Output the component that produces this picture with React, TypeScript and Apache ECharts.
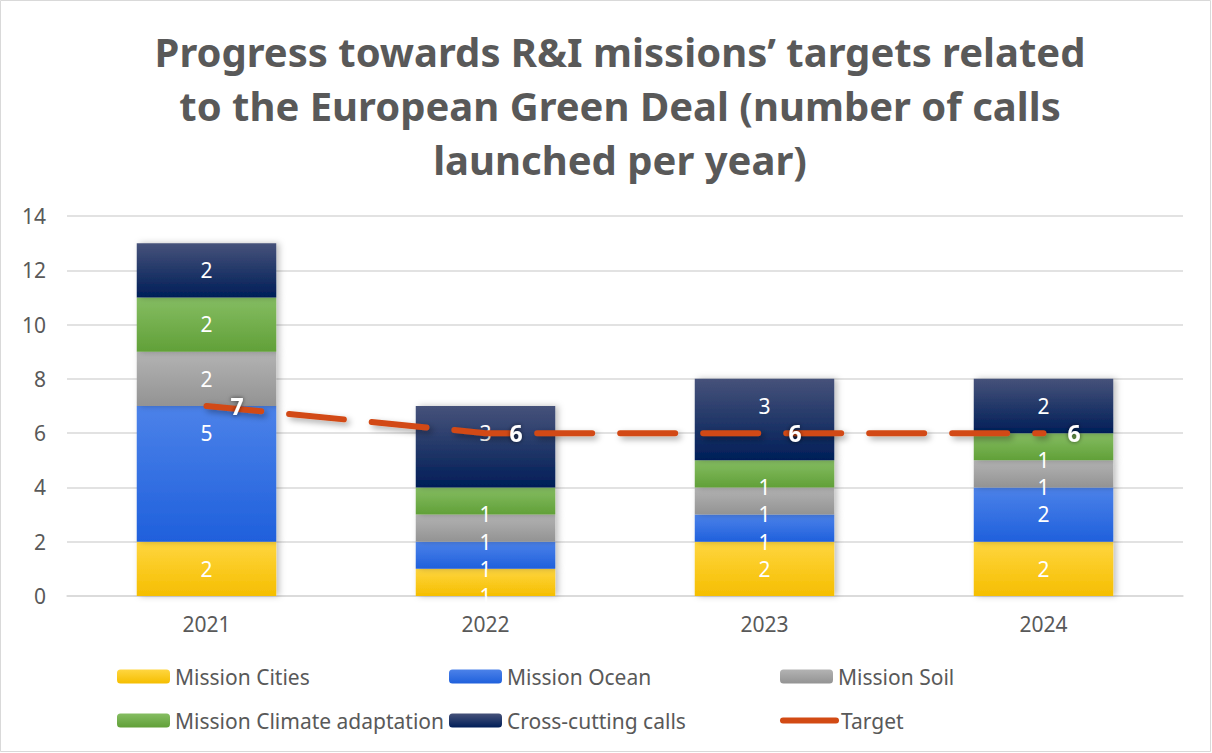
import React, { useEffect, useRef } from "react";
import * as echarts from "echarts";

const years = ["2021", "2022", "2023", "2024"];
const missionCities = [2, 1, 2, 2];
const missionOcean = [5, 1, 1, 2];
const missionSoil = [2, 1, 1, 1];
const missionClimate = [2, 1, 1, 1];
const crossCutting = [2, 3, 3, 2];
const target = [7, 6, 6, 6];
const yTicks = { min: 0, max: 14, interval: 2 };

const FONT = "Noto Sans";

const grad = (top: string, bottom: string) =>
  new echarts.graphic.LinearGradient(0, 0, 0, 1, [
    { offset: 0, color: top },
    { offset: 1, color: bottom },
  ]);

const barDefs = [
  { name: "Mission Cities", data: missionCities, top: "#FFD640", bottom: "#F5BE00" },
  { name: "Mission Ocean", data: missionOcean, top: "#4C82E9", bottom: "#1F60DC" },
  { name: "Mission Soil", data: missionSoil, top: "#B3B3B3", bottom: "#939393" },
  { name: "Mission Climate adaptation", data: missionClimate, top: "#85BD62", bottom: "#61A038" },
  { name: "Cross-cutting calls", data: crossCutting, top: "#46527A", bottom: "#001E58" },
];

export default function App() {
  const ref = useRef<HTMLDivElement>(null);
  useEffect(() => {
    if (!ref.current) return;
    const chart = echarts.init(ref.current, null, { renderer: "svg" });

    const barSeries = barDefs.map((d) => ({
      name: d.name,
      type: "bar",
      stack: "total",
      barWidth: "50%",
      itemStyle: {
        color: grad(d.top, d.bottom),
        shadowColor: "rgba(0,0,0,0.25)",
        shadowBlur: 6,
        shadowOffsetX: 3,
        shadowOffsetY: 0,
      },
      label: {
        show: true,
        position: "insideTop",
        distance: 15,
        lineHeight: 24,
        color: "#FFFFFF",
        fontSize: 21,
        fontFamily: FONT,
      },
      data: d.data,
    }));

    const legendPos = [
      { name: "Mission Cities", left: 117, top: 666 },
      { name: "Mission Ocean", left: 449, top: 666 },
      { name: "Mission Soil", left: 780, top: 666 },
      { name: "Mission Climate adaptation", left: 117, top: 710 },
      { name: "Cross-cutting calls", left: 449, top: 710 },
      { name: "Target", left: 780, top: 710 },
    ];

    chart.setOption({
      animation: false,
      backgroundColor: "#FFFFFF",
      textStyle: { fontFamily: FONT },
      graphic: [
        {
          type: "rect",
          shape: { x: 0.5, y: 0.5, width: 1210, height: 751 },
          style: { fill: "none", stroke: "#D9D9D9", lineWidth: 1 },
          silent: true,
          z: -10,
        },
        {
          type: "text",
          x: 620,
          y: 24,
          style: {
            text: "Progress towards R&I missions\u2019 targets related\nto the European Green Deal (number of calls\nlaunched per year)",
            fontFamily: FONT,
            fontWeight: "bold",
            fontSize: 40,
            lineHeight: 54,
            fill: "#595959",
            textAlign: "center",
            textVerticalAlign: "top",
          },
        },
      ],
      grid: { left: 67, right: 29, top: 216, bottom: 157 },
      xAxis: {
        type: "category",
        data: years,
        axisLine: { show: true, lineStyle: { color: "#D9D9D9", width: 1.5 } },
        axisTick: { show: false },
        axisLabel: { color: "#595959", fontSize: 21, fontFamily: FONT, margin: 17 },
      },
      yAxis: {
        type: "value",
        min: yTicks.min,
        max: yTicks.max,
        interval: yTicks.interval,
        axisLine: { show: false },
        axisTick: { show: false },
        axisLabel: { color: "#595959", fontSize: 21, fontFamily: FONT, margin: 21 },
        splitLine: { lineStyle: { color: "#D9D9D9", width: 1.5 } },
      },
      legend: legendPos.map((p) => {
        const base: any = {
          data: [p.name],
          left: p.left,
          top: p.top,
          itemWidth: 53,
          itemHeight: p.name === "Target" ? 6 : 14,
          itemGap: 0,
          padding: 0,
          textStyle: { color: "#595959", fontSize: 21, fontFamily: FONT },
          selectedMode: false,
        };
        if (p.name === "Target") {
          base.lineStyle = { type: "solid", width: 6, cap: "round", color: "#D24A14" };
          base.itemStyle = { color: "rgba(0,0,0,0)" };
        }
        return base;
      }),
      series: [
        ...barSeries,
        {
          name: "Target",
          type: "line",
          data: target,
          symbol: "circle",
          symbolSize: 2,
          showSymbol: true,
          z: 10,
          lineStyle: {
            color: "#D24A14",
            width: 6,
            type: [55, 28],
            cap: "round",
            shadowColor: "rgba(0,0,0,0.35)",
            shadowBlur: 6,
            shadowOffsetX: 3,
            shadowOffsetY: 3,
          },
          itemStyle: { color: "rgba(210,74,20,0)", borderWidth: 0 },
          label: {
            show: true,
            position: "right",
            offset: [18, 0],
            color: "#FFFFFF",
            opacity: 1,
            fontWeight: "bold",
            fontSize: 23,
            fontFamily: FONT,
            textShadowColor: "rgba(0,0,0,0.6)",
            textShadowBlur: 4,
          },
        },
      ],
    });
    return () => chart.dispose();
  }, []);
  return (
    <div
      ref={ref}
      style={{ position: "absolute", left: 0, top: 0, width: 1212, height: 753 }}
    />
  );
}
